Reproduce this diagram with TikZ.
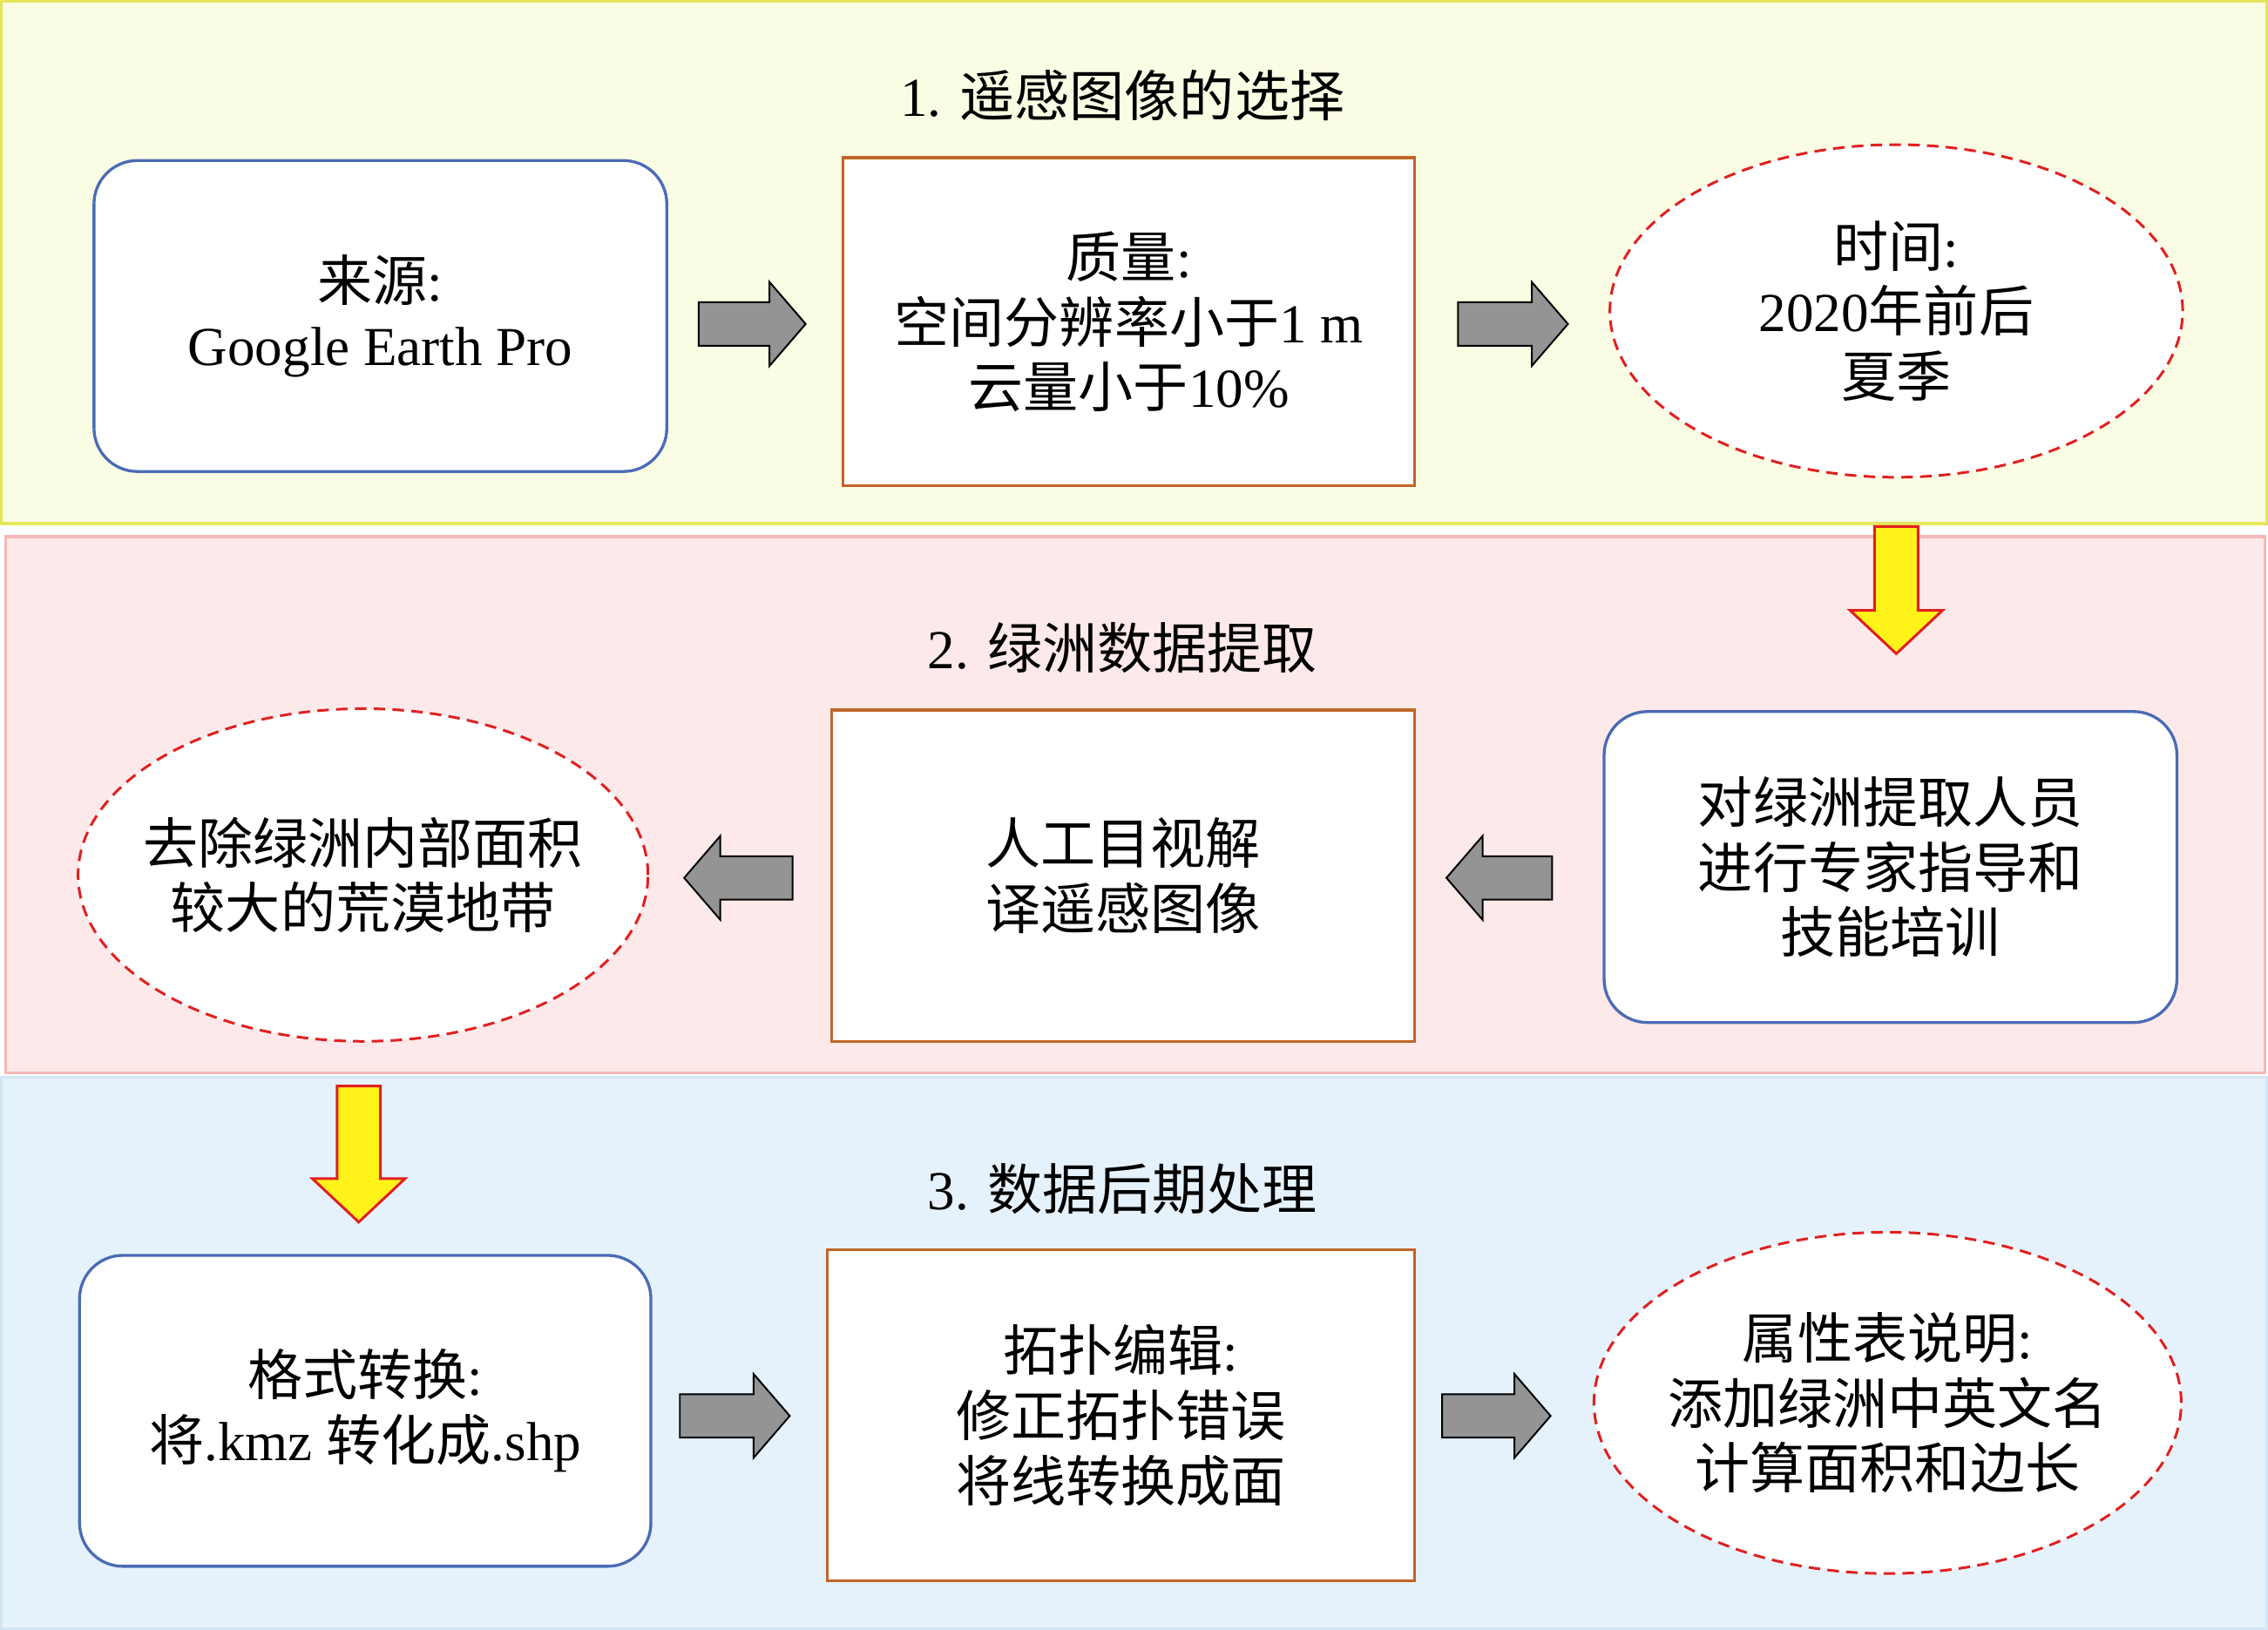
\documentclass[tikz,border=0pt]{standalone}
\usepackage{fontspec}
\setmainfont{Liberation Serif}
\newfontfamily\cj{Noto Sans CJK SC}
\usetikzlibrary{shapes.geometric}
\definecolor{bY}{HTML}{FAFCE3}\definecolor{bYd}{HTML}{E6E65A}
\definecolor{bR}{HTML}{FDE9E9}\definecolor{bRd}{HTML}{F4B8B8}
\definecolor{bB}{HTML}{E6F2FB}\definecolor{bBd}{HTML}{D2E6F5}
\definecolor{blu}{HTML}{4A6BB5}\definecolor{org}{HTML}{C0652A}
\definecolor{ared}{HTML}{E02020}
\newcommand\harr[4]{% x1 x2 y style
 \pgfmathsetmacro\hh{(#2>#1)?25:-25}
 \draw[#4] (#1,{#3-15}) -- ({#2-\hh},{#3-15}) -- ({#2-\hh},{#3-29}) -- (#2,#3) -- ({#2-\hh},{#3+29}) -- ({#2-\hh},{#3+15}) -- (#1,{#3+15}) -- cycle;}
\newcommand\varr[4]{% x y1 y2 style
 \draw[#4] ({#1-15},#2) -- ({#1-15},{#3-30}) -- ({#1-32},{#3-30}) -- (#1,#3) -- ({#1+32},{#3-30}) -- ({#1+15},{#3-30}) -- ({#1+15},#2) -- cycle;}
\begin{document}
\begin{tikzpicture}[x=1pt,y=-1pt,
 txt/.style={align=center,font=\fontsize{38}{45}\selectfont},
 rbox/.style={draw=blu,line width=2pt,rounded corners=30pt,fill=white,txt},
 sbox/.style={draw=org,line width=2pt,fill=white,txt},
 ell/.style={ellipse,draw=ared,dash pattern=on 8pt off 5pt,line width=1.8pt,fill=white,txt,inner sep=-40pt},
 garr/.style={fill=gray!80!black!70,draw=black,line width=1.2pt},
 yarr/.style={fill=yellow!90!white,draw=ared,line width=1.8pt}]
\useasboundingbox (0,0) rectangle (1568,1127);
\fill[bY,draw=bYd,line width=2pt] (1,1) rectangle (1567,362);
\fill[bR,draw=bRd,line width=2pt] (4,371) rectangle (1566,742);
\fill[bB,draw=bBd,line width=2pt] (1,745) rectangle (1567,1126);
\node[txt] (t1) at (776,66) {1. {\cj 遥感图像的选择}};
\node[txt] (t2) at (776,448) {2. {\cj 绿洲数据提取}};
\node[txt] (t3) at (776,822) {3. {\cj 数据后期处理}};
% row1
\node[rbox,minimum width=396,minimum height=215] (a1) at (263,218.5) {{\cj 来源}:\\Google Earth Pro};
\node[sbox,minimum width=395,minimum height=227] (a2) at (780.5,222.5) {{\cj 质量}:\\{\cj 空间分辨率小于}1 m\\{\cj 云量小于}10\%};
\node[ell,minimum width=396,minimum height=230] (a3) at (1311,215) {{\cj 时间}:\\2020{\cj 年前后}\\{\cj 夏季}};
% row2
\node[ell,minimum width=394,minimum height=230] (b1) at (251,605) {{\cj 去除绿洲内部面积}\\{\cj 较大的荒漠地带}};
\node[sbox,minimum width=403,minimum height=229] (b2) at (776.5,605.5) {{\cj 人工目视解}\\{\cj 译遥感图像}};
\node[rbox,minimum width=396,minimum height=215] (b3) at (1307,599.5) {{\cj 对绿洲提取人员}\\{\cj 进行专家指导和}\\{\cj 技能培训}};
% row3
\node[rbox,minimum width=395,minimum height=215] (c1) at (252.5,975.5) {{\cj 格式转换}:\\{\cj 将}.kmz {\cj 转化成}.shp};
\node[sbox,minimum width=406,minimum height=229] (c2) at (775,978.5) {{\cj 拓扑编辑}:\\{\cj 修正拓扑错误}\\{\cj 将线转换成面}};
\node[ell,minimum width=406,minimum height=236] (c3) at (1305,970) {{\cj 属性表说明}:\\{\cj 添加绿洲中英文名}\\{\cj 计算面积和边长}};
\harr{483}{557}{224}{garr}
\harr{1008}{1084}{224}{garr}
\harr{548}{473}{607}{garr}
\harr{1073}{1000}{607}{garr}
\harr{470}{546}{979}{garr}
\harr{997}{1072}{979}{garr}
\varr{1311}{364}{452}{yarr}
\varr{248}{751}{845}{yarr}
\end{tikzpicture}
\end{document}
